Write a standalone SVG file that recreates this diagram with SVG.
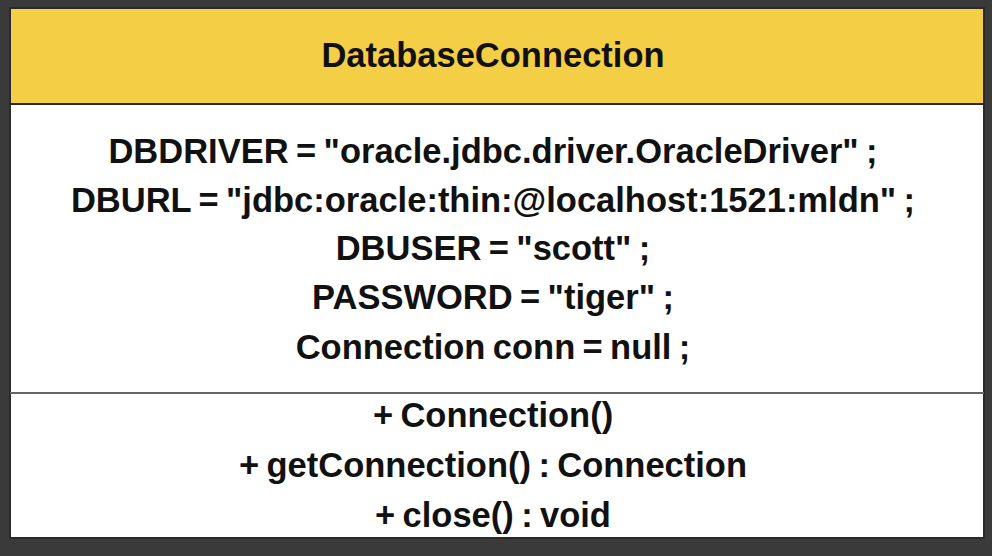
<svg xmlns="http://www.w3.org/2000/svg" width="992" height="556" viewBox="0 0 992 556">
<style>
.t{font-family:"Liberation Sans",Arial,sans-serif;font-weight:bold;font-size:34.5px;word-spacing:-2.2px;fill:#111;text-anchor:middle}
</style>
<rect x="0" y="0" width="992" height="556" fill="#3a3a3a"/>
<g id="DatabaseConnection">
<rect x="10" y="8" width="974" height="530" fill="#ffffff" stroke="#2a2a2a" stroke-width="2"/>
<rect x="10" y="8" width="974" height="96" fill="#f4cf45" stroke="#2a2a2a" stroke-width="2"/>
<line x1="10" y1="393" x2="984" y2="393" stroke="#666" stroke-width="2"/>
<text class="t" x="493" y="67">DatabaseConnection</text>
<text class="t" x="493" y="163">DBDRIVER = "oracle.jdbc.driver.OracleDriver" ;</text>
<text class="t" x="493" y="212">DBURL = "jdbc:oracle:thin:@localhost:1521:mldn" ;</text>
<text class="t" x="493" y="260">DBUSER = "scott" ;</text>
<text class="t" x="493" y="309">PASSWORD = "tiger" ;</text>
<text class="t" x="493" y="359">Connection conn = null ;</text>
<text class="t" x="493" y="427">+ Connection()</text>
<text class="t" x="493" y="477">+ getConnection() : Connection</text>
<text class="t" x="493" y="527">+ close() : void</text>
</g>
<g id="connectors"/>
</svg>
